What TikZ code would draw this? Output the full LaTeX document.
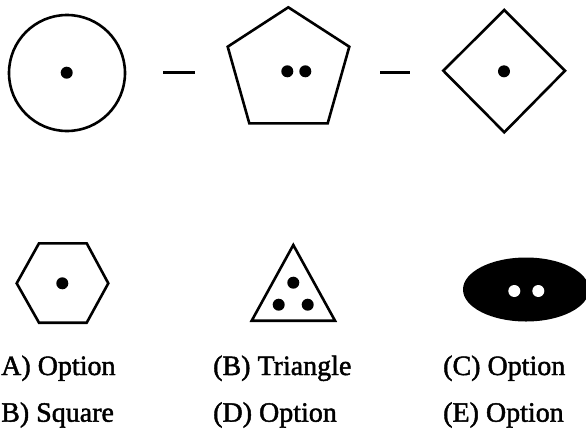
\documentclass[tikz,border=0pt]{standalone}
\usepackage{fontspec}
\setmainfont{Liberation Serif}[AutoFakeBold=1.6]
\usepackage{tikz}

\begin{document}
\begin{tikzpicture}[
    x=1pt, y=-1pt,
    shapeline/.style={draw=black, line width=2.6pt, line join=miter},
    sepline/.style={draw=black, line width=2.8pt},
    dot/.style={fill=black},
    hole/.style={fill=white},
    optlabel/.style={anchor=base west, inner sep=0pt, font=\fontsize{28}{34}\selectfont\bfseries}
]
    \useasboundingbox (0,0) rectangle (586,432);

    % question row
    \draw[shapeline] (67,73) circle[radius=58];
    \fill[dot] (66.7,72.7) circle[radius=6];

    \coordinate (d1a) at (163.3,72.7);
    \coordinate (d1b) at (195,72.7);
    \draw[sepline] (d1a) -- (d1b);

    \draw[shapeline] (288.3,7.3) -- (349.3,46.7) -- (327.7,123.3) -- (249.3,123.3) -- (227.7,46.7) -- cycle;
    \fill[dot] (287.3,71.3) circle[radius=6];
    \fill[dot] (305.3,71.3) circle[radius=6];

    \coordinate (d2a) at (380,72.7);
    \coordinate (d2b) at (410,72.7);
    \draw[sepline] (d2a) -- (d2b);

    \draw[shapeline] (504.3,10) -- (565,70.7) -- (504.3,132.3) -- (443.3,70.7) -- cycle;
    \fill[dot] (504,71.3) circle[radius=6];

    % answer row
    \draw[shapeline] (39,243.3) -- (86.7,243.3) -- (108.3,283.3) -- (86.7,322.7) -- (39,322.7) -- (16.7,283.3) -- cycle;
    \fill[dot] (62.3,283.3) circle[radius=6];

    \draw[shapeline] (293.3,245) -- (335,320.7) -- (251.7,320.7) -- cycle;
    \fill[dot] (293.3,282.7) circle[radius=6];
    \fill[dot] (278.7,304.7) circle[radius=6];
    \fill[dot] (307.7,304.7) circle[radius=6];

    \fill[dot] (526,289.5) ellipse[x radius=63, y radius=32];
    \fill[hole] (514.3,291) circle[radius=6];
    \fill[hole] (538.3,291) circle[radius=6];

    % options
    \node[optlabel] (optA) at (1,375) {A) Option};
    \node[optlabel] (optB) at (213,375) {(B) Triangle};
    \node[optlabel] (optC) at (443,375) {(C) Option};
    \node[optlabel] (optBsq) at (1,421.7) {B) Square};
    \node[optlabel] (optD) at (213,421.7) {(D) Option};
    \node[optlabel] (optE) at (443,421.7) {(E) Option};
\end{tikzpicture}
\end{document}
